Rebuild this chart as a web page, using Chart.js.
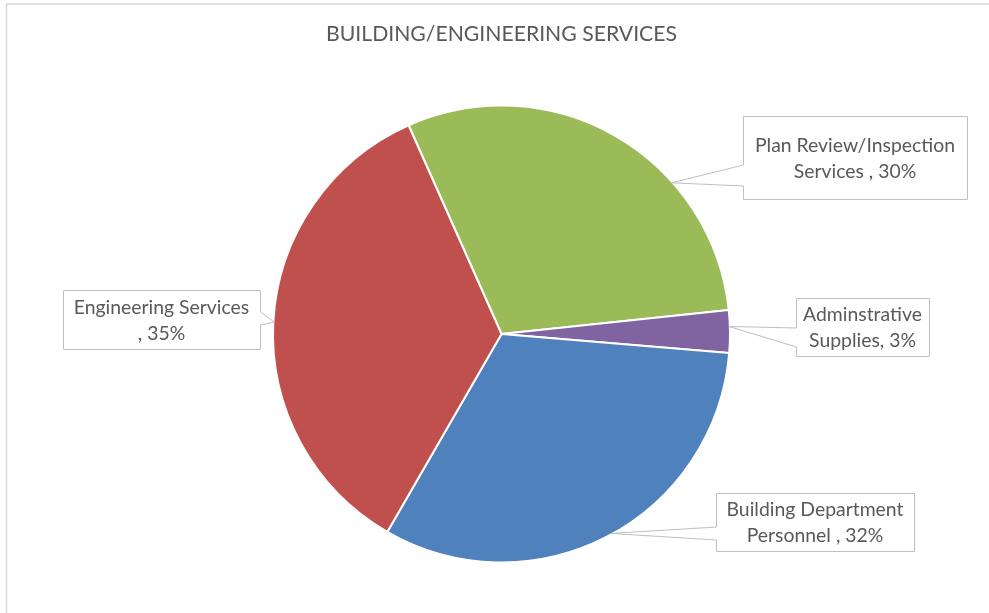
<!DOCTYPE html>
<html>
<head>
<meta charset="utf-8">
<title>Building/Engineering Services</title>
<script src="https://cdn.jsdelivr.net/npm/chart.js@4/dist/chart.umd.min.js"></script>
<style>
  html, body { margin: 0; padding: 0; background: #ffffff; }
  #wrap { width: 989px; height: 613px; position: relative; }
</style>
</head>
<body>
<div id="wrap"><canvas id="c" width="989" height="613"></canvas></div>
<script>
const chartTitle = 'BUILDING/ENGINEERING SERVICES';
const categories = [
  'Plan Review/Inspection Services ',
  'Adminstrative Supplies',
  'Building Department Personnel ',
  'Engineering Services '
];
const percentages = [30, 3, 32, 35];
const sliceColors = ['#9BBB59', '#8064A2', '#4F81BD', '#C0504D'];

// Callout boxes: rectangle [x, y, w, h], the box edge the pointer leaves from,
// the pointer's base span on that edge, how far along the slice's rim it lands,
// and how many words go on the first text line.
const callouts = [
  { box: [743, 116, 224, 83], side: 'left',  base: [165, 186], along: 0.67, firstLine: 2 },
  { box: [796, 298, 133, 58], side: 'left',  base: [328, 347], along: 0.38, firstLine: 1 },
  { box: [716, 493, 198, 58], side: 'left',  base: [527, 540], along: 0.49, firstLine: 2 },
  { box: [63, 290, 197, 59],  side: 'right', base: [312, 325], along: 0.50, firstLine: 2 }
];

const TEXT_COLOR = '#595959';
const LABEL_FONT = '19.4px Lato, "Open Sans", sans-serif';
const TITLE_FONT = '21.2px Lato, "Open Sans", sans-serif';

const framePlugin = {
  id: 'frame',
  beforeDraw(chart) {
    const ctx = chart.ctx;
    ctx.save();
    ctx.fillStyle = '#ffffff';
    ctx.fillRect(0, 0, chart.width, chart.height);
    ctx.strokeStyle = '#d9d9d9';
    ctx.lineWidth = 1.5;
    ctx.beginPath();
    ctx.moveTo(6.5, chart.height);
    ctx.lineTo(6.5, 4);
    ctx.lineTo(chart.width, 4);
    ctx.stroke();

    ctx.fillStyle = TEXT_COLOR;
    ctx.font = TITLE_FONT;
    ctx.textAlign = 'center';
    ctx.textBaseline = 'middle';
    ctx.fillText(chartTitle, 501.5, 34);
    ctx.restore();
  }
};

const calloutPlugin = {
  id: 'callouts',
  afterDatasetsDraw(chart) {
    const ctx = chart.ctx;
    const meta = chart.getDatasetMeta(0);
    ctx.save();
    meta.data.forEach((arc, i) => {
      const c = callouts[i];
      if (!c) return;
      const p = arc.getProps(['x', 'y', 'startAngle', 'endAngle', 'outerRadius'], true);
      const a = p.startAngle + (p.endAngle - p.startAngle) * c.along;
      const tipX = p.x + (p.outerRadius - 1) * Math.cos(a);
      const tipY = p.y + (p.outerRadius - 1) * Math.sin(a);
      const [bx, by, bw, bh] = c.box;
      const x0 = bx + 0.5, y0 = by + 0.5, x1 = bx + bw + 0.5, y1 = by + bh + 0.5;

      ctx.beginPath();
      if (c.side === 'left') {
        ctx.moveTo(x0, y0);
        ctx.lineTo(x1, y0);
        ctx.lineTo(x1, y1);
        ctx.lineTo(x0, y1);
        ctx.lineTo(x0, c.base[1]);
        ctx.lineTo(tipX, tipY);
        ctx.lineTo(x0, c.base[0]);
      } else {
        ctx.moveTo(x0, y0);
        ctx.lineTo(x1, y0);
        ctx.lineTo(x1, c.base[0]);
        ctx.lineTo(tipX, tipY);
        ctx.lineTo(x1, c.base[1]);
        ctx.lineTo(x1, y1);
        ctx.lineTo(x0, y1);
      }
      ctx.closePath();
      ctx.fillStyle = '#ffffff';
      ctx.fill();
      ctx.strokeStyle = '#bfbfbf';
      ctx.lineWidth = 1;
      ctx.stroke();

      const words = (categories[i] + ', ' + percentages[i] + '%').split(' ').filter(w => w.length);
      const lines = [words.slice(0, c.firstLine).join(' '), words.slice(c.firstLine).join(' ')];
      const cx = bx + bw / 2;
      const cy = by + bh / 2 + 1;
      ctx.fillStyle = TEXT_COLOR;
      ctx.font = LABEL_FONT;
      ctx.textAlign = 'center';
      ctx.textBaseline = 'middle';
      ctx.fillText(lines[0], cx, cy - 13);
      ctx.fillText(lines[1], cx, cy + 13);
    });
    ctx.restore();
  }
};

new Chart(document.getElementById('c'), {
  type: 'pie',
  data: {
    labels: categories,
    datasets: [{
      data: percentages,
      backgroundColor: sliceColors,
      borderColor: '#ffffff',
      borderWidth: 2,
      radius: 228.5
    }]
  },
  options: {
    responsive: false,
    devicePixelRatio: 1,
    animation: false,
    rotation: -24,
    layout: { padding: { left: 271.5, right: 257.5, top: 104, bottom: 49 } },
    plugins: {
      legend: { display: false },
      tooltip: { enabled: false },
      title: { display: false }
    }
  },
  plugins: [framePlugin, calloutPlugin]
});
</script>
</body>
</html>
